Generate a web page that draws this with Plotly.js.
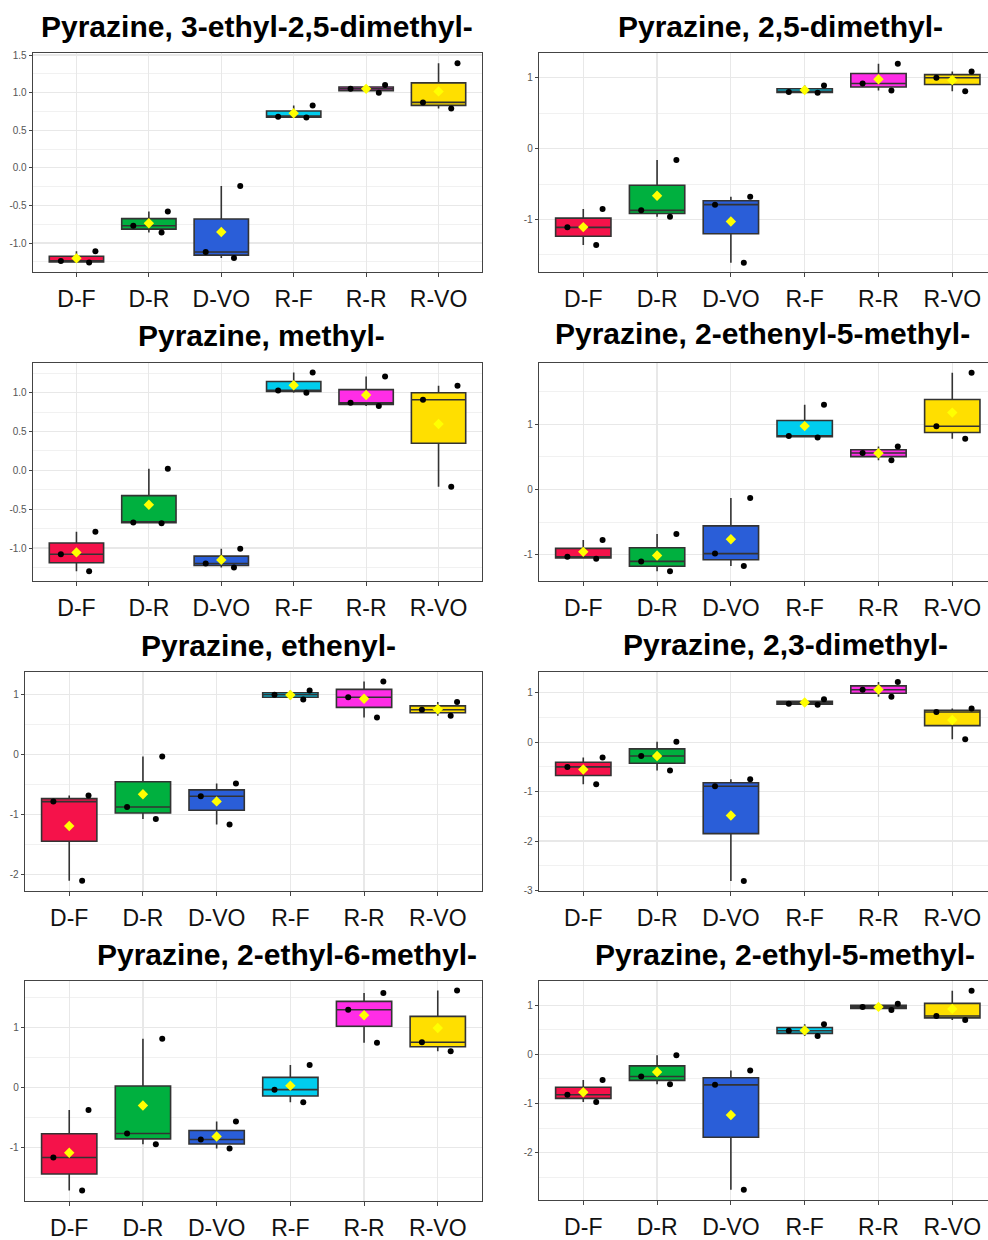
<!DOCTYPE html>
<html>
<head>
<meta charset="utf-8">
<script src="https://cdn.plot.ly/plotly-3.0.1.min.js"></script>
<style>
  html, body { margin: 0; padding: 0; background: #ffffff; overflow: hidden; }
  #chart { width: 988px; height: 1240px; }
</style>
</head>
<body>
<div id="chart"></div>
<script>
// ---------- data ----------
const categories = ['D-F', 'D-R', 'D-VO', 'R-F', 'R-R', 'R-VO'];

const titles = [
  'Pyrazine, 3-ethyl-2,5-dimethyl-',
  'Pyrazine, 2,5-dimethyl-',
  'Pyrazine, methyl-',
  'Pyrazine, 2-ethenyl-5-methyl-',
  'Pyrazine, ethenyl-',
  'Pyrazine, 2,3-dimethyl-',
  'Pyrazine, 2-ethyl-6-methyl-',
  'Pyrazine, 2-ethyl-5-methyl-'
];

// each inner list: three replicate values for one group (order = categories)
const ethylDimethyl325 = [[-1.11, -1.24, -1.26], [-0.58, -0.77, -0.86], [-0.24, -1.12, -1.20], [0.83, 0.68, 0.67], [1.10, 1.00, 1.05], [1.39, 0.87, 0.79]];
const dimethyl25 = [[-0.85, -1.11, -1.36], [-0.16, -0.87, -0.96], [-0.68, -0.79, -1.61], [0.89, 0.80, 0.79], [1.20, 0.92, 0.82], [1.09, 1.00, 0.81]];
const methyl = [[-0.79, -1.08, -1.30], [0.02, -0.67, -0.68], [-1.01, -1.20, -1.25], [1.26, 1.03, 1.00], [1.21, 0.87, 0.83], [1.09, 0.91, -0.21]];
const ethenylMethyl25 = [[-0.77, -1.03, -1.06], [-0.68, -1.10, -1.25], [-0.13, -0.98, -1.17], [1.30, 0.82, 0.80], [0.66, 0.56, 0.45], [1.79, 0.97, 0.78]];
const ethenyl = [[-0.69, -0.79, -2.11], [-0.04, -0.88, -1.08], [-0.49, -0.70, -1.17], [1.06, 0.99, 0.91], [1.21, 0.95, 0.61], [0.87, 0.74, 0.64]];
const dimethyl23 = [[-0.31, -0.50, -0.85], [0.01, -0.28, -0.57], [-0.75, -0.89, -2.81], [0.87, 0.78, 0.76], [1.22, 1.06, 0.92], [0.68, 0.61, 0.06]];
const ethylMethyl26 = [[-0.38, -1.17, -1.72], [0.81, -0.77, -0.95], [-0.57, -0.87, -1.02], [0.37, -0.04, -0.25], [1.57, 1.29, 0.74], [1.61, 0.75, 0.60]];
const ethylMethyl25 = [[-0.52, -0.82, -0.97], [-0.02, -0.45, -0.61], [-0.33, -0.62, -2.75], [0.61, 0.48, 0.37], [1.03, 0.96, 0.90], [1.29, 0.78, 0.70]];

const panelData = [ethylDimethyl325, dimethyl25, methyl, ethenylMethyl25, ethenyl, dimethyl23, ethylMethyl26, ethylMethyl25];

// y tick values per panel
const yTicks1 = [-1.0, -0.5, 0.0, 0.5, 1.0, 1.5];
const yTicks2 = [-1, 0, 1];
const yTicks3 = [-1.0, -0.5, 0.0, 0.5, 1.0];
const yTicks4 = [-1, 0, 1];
const yTicks5 = [-2, -1, 0, 1];
const yTicks6 = [-3, -2, -1, 0, 1];
const yTicks7 = [-1, 0, 1];
const yTicks8 = [-2, -1, 0, 1];
const yTickSets = [yTicks1, yTicks2, yTicks3, yTicks4, yTicks5, yTicks6, yTicks7, yTicks8];

// ---------- styling / layout ----------
const colors = ['#F5124A', '#00B03F', '#2A5ED8', '#00CDEE', '#FF2DE6', '#FFDF00'];
const W = 988, H = 1240;
const FONT = 'Liberation Sans, Arial, Helvetica, sans-serif';

// pixel geometry of each panel: [left, right, top, bottom]
const geom = [
  [33, 482, 53, 272], [539, 988, 53, 272],
  [33, 482, 363, 581], [539, 988, 363, 581],
  [25, 482, 672, 891], [539, 988, 672, 891],
  [25, 482, 981, 1201], [539, 988, 981, 1200]
];
const yRanges = [
  [-1.385, 1.527], [-1.74, 1.35],
  [-1.425, 1.383], [-1.40, 1.94],
  [-2.28, 1.37], [-3.01, 1.42],
  [-1.895, 1.77], [-2.96, 1.49]
];
const xRanges = [
  [-0.6, 5.6], [-0.6, 5.484],
  [-0.6, 5.6], [-0.6, 5.484],
  [-0.6, 5.6], [-0.6, 5.484],
  [-0.6, 5.6], [-0.6, 5.484]
];
const decimals = [1, 0, 1, 0, 0, 0, 0, 0];
const titlePos = [[257, 27], [780, 27], [261, 335], [762, 334], [268, 645], [785, 644], [287, 954], [785, 954]];

const traces = [];
const layout = {
  width: W, height: H,
  margin: { l: 0, r: 0, t: 0, b: 0 },
  paper_bgcolor: '#ffffff',
  plot_bgcolor: '#ffffff',
  showlegend: false,
  boxmode: 'overlay',
  font: { family: FONT },
  annotations: []
};

panelData.forEach((groups, p) => {
  const n = p + 1;
  const xa = n === 1 ? 'x' : 'x' + n;
  const ya = n === 1 ? 'y' : 'y' + n;
  const [l, r, t, b] = geom[p];

  groups.forEach((vals, g) => {
    traces.push({
      type: 'box',
      x: vals.map(() => categories[g]),
      y: vals,
      xaxis: xa, yaxis: ya,
      name: categories[g],
      quartilemethod: 'inclusive',
      boxpoints: 'all',
      jitter: 0.9,
      pointpos: 0,
      width: 0.75,
      whiskerwidth: 0,
      fillcolor: colors[g],
      line: { color: '#333333', width: 1.6 },
      marker: { color: '#000000', size: 6, line: { width: 0 } },
      hoverinfo: 'y'
    });
  });

  traces.push({
    type: 'scatter',
    mode: 'markers',
    x: categories,
    y: groups.map(v => v.reduce((s, a) => s + a, 0) / v.length),
    xaxis: xa, yaxis: ya,
    marker: { symbol: 'diamond', color: '#FFFF00', size: 8, line: { width: 0 } },
    hoverinfo: 'y'
  });

  const ticks = yTickSets[p];
  layout['xaxis' + (n === 1 ? '' : n)] = {
    domain: [l / W, r / W],
    anchor: ya,
    type: 'category',
    categoryorder: 'array',
    categoryarray: categories,
    range: xRanges[p],
    showgrid: true, gridcolor: '#E8E8E8', gridwidth: 1.2,
    zeroline: false,
    showline: true, mirror: true, linecolor: '#444444', linewidth: 1.3,
    ticks: 'outside', ticklen: 4, tickcolor: '#444444', tickwidth: 1,
    ticklabelstandoff: 2,
    tickfont: { family: FONT, size: 23, color: '#111111' },
    fixedrange: true
  };
  layout['yaxis' + (n === 1 ? '' : n)] = {
    domain: [1 - b / H, 1 - t / H],
    anchor: xa,
    range: yRanges[p],
    tickmode: 'array',
    tickvals: ticks,
    ticktext: ticks.map(v => v.toFixed(decimals[p])),
    showgrid: true, gridcolor: '#E8E8E8', gridwidth: 1.2,
    minor: {
      tickmode: 'linear',
      tick0: decimals[p] === 1 ? 0.25 : 0.5,
      dtick: decimals[p] === 1 ? 0.5 : 1,
      showgrid: true, gridcolor: '#F1F1F1', gridwidth: 1,
      ticks: ''
    },
    zeroline: false,
    showline: true, mirror: true, linecolor: '#444444', linewidth: 1.3,
    ticks: 'outside', ticklen: 3, tickcolor: '#444444', tickwidth: 1,
    tickfont: { family: FONT, size: 10, color: '#555555' },
    fixedrange: true
  };

  layout.annotations.push({
    text: '<b>' + titles[p] + '</b>',
    xref: 'paper', yref: 'paper',
    x: titlePos[p][0] / W, y: 1 - titlePos[p][1] / H,
    xanchor: 'center', yanchor: 'middle',
    showarrow: false,
    font: { family: FONT, size: 30, color: '#000000' }
  });
});

Plotly.newPlot('chart', traces, layout, { displayModeBar: false, staticPlot: true });
</script>
</body>
</html>
